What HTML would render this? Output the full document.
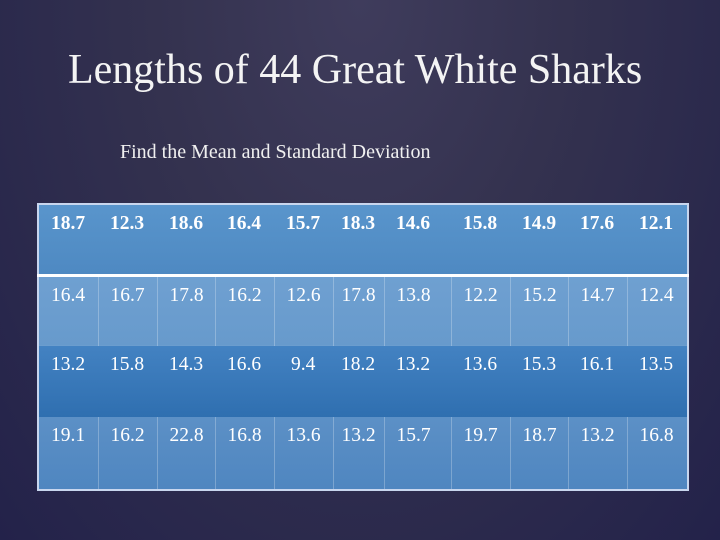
<!DOCTYPE html>
<html><head><meta charset="utf-8">
<style>
html,body{margin:0;padding:0}
body{width:720px;height:540px;overflow:hidden;position:relative;
background:radial-gradient(ellipse at 50% 0%,#3f3c5c 0%,#34324f 40%,#23224a 100%);
font-family:"Liberation Serif",serif;color:#fff}
#title{position:absolute;left:68px;top:45px;white-space:nowrap;font-size:42px;line-height:50px;color:#f4f4f4}
#sub{position:absolute;left:120px;top:140px;font-size:20px;line-height:24px;color:#f0f0f0}
table{position:absolute;left:37px;top:203px;border-collapse:collapse;border:2px solid #c8d6ee;table-layout:fixed;width:650px}
td{height:71px;vertical-align:top;padding:8px 0 0 12px;font-size:19.5px;color:#fff;box-sizing:border-box;border-left:1px solid rgba(255,255,255,0.25)}
tr.h td{font-weight:bold;border-left:none;background:linear-gradient(#5995cc,#4e89c2)}
tr.h{border-bottom:3px solid #fff}
tr.r2 td{background:linear-gradient(#6fa0d1,#679acc)}
tr.r3 td{background:linear-gradient(#4382c2,#2f6fb0);border-left:none}
tr.r4 td{background:linear-gradient(#5c90c6,#4f86c0)}
td.c6{padding-left:8px}
</style></head><body>
<div id="title">Lengths of 44 Great White Sharks</div>
<div id="sub">Find the Mean and Standard Deviation</div>
<table>
<colgroup><col style="width:60px"><col style="width:59px"><col style="width:58px"><col style="width:59px"><col style="width:59px"><col style="width:51px"><col style="width:67px"><col style="width:59px"><col style="width:58px"><col style="width:59px"><col style="width:61px"></colgroup>
<tr class="h"><td>18.7</td><td>12.3</td><td>18.6</td><td>16.4</td><td>15.7</td><td class="c6">18.3</td><td>14.6</td><td>15.8</td><td>14.9</td><td>17.6</td><td>12.1</td></tr>
<tr class="r2"><td>16.4</td><td>16.7</td><td>17.8</td><td>16.2</td><td>12.6</td><td class="c6">17.8</td><td>13.8</td><td>12.2</td><td>15.2</td><td>14.7</td><td>12.4</td></tr>
<tr class="r3"><td>13.2</td><td>15.8</td><td>14.3</td><td>16.6</td><td style="padding-left:17px">9.4</td><td class="c6">18.2</td><td>13.2</td><td>13.6</td><td>15.3</td><td>16.1</td><td>13.5</td></tr>
<tr class="r4"><td style="height:73px">19.1</td><td>16.2</td><td>22.8</td><td>16.8</td><td>13.6</td><td class="c6">13.2</td><td>15.7</td><td>19.7</td><td>18.7</td><td>13.2</td><td>16.8</td></tr>
</table>
</body></html>
